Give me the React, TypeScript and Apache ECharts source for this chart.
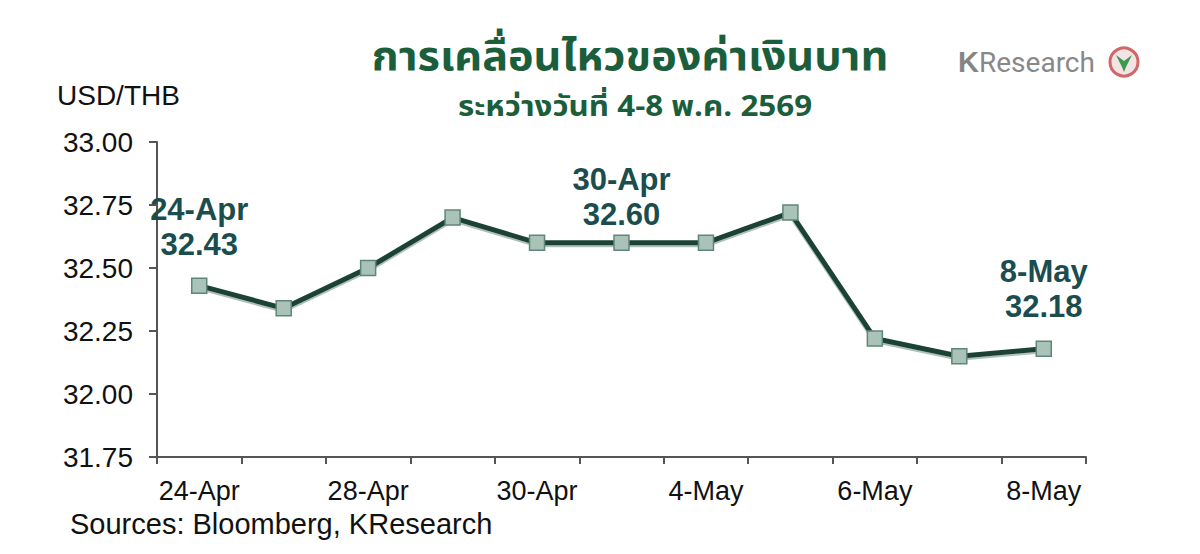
import React, { useEffect, useRef } from "react";
import * as echarts from "echarts";

const categories = ["24-Apr", "27-Apr", "28-Apr", "29-Apr", "30-Apr", "1-May", "4-May", "5-May", "6-May", "7-May", "8-May"];
const values = [32.43, 32.34, 32.5, 32.7, 32.6, 32.6, 32.6, 32.72, 32.22, 32.15, 32.18];
const annotations: Record<number, { text: string; distance: number }> = {
  0: { text: "24-Apr\n32.43", distance: 15 },
  5: { text: "30-Apr\n32.60", distance: 3 },
  10: { text: "8-May\n32.18", distance: 16 },
};
const yMin = 31.75;
const yMax = 33.0;
const yStep = 0.25;

const titleText = "การเคลื่อนไหวของค่าเงินบาท";
const subtitleText = "ระหว่างวันที่ 4-8 พ.ค. 2569";
const unitText = "USD/THB";
const sourceText = "Sources: Bloomberg, KResearch";

const ARIAL = "Arial, Liberation Sans, sans-serif";
const THAI = "Noto Sans Thai, Loma, Tlwg Typo, sans-serif";

export default function App() {
  const ref = useRef<HTMLDivElement>(null);
  useEffect(() => {
    document.body.style.margin = "0";
    const chart = echarts.init(ref.current!, undefined, { renderer: "svg" });
    const data = values.map((v, i) => {
      const a = annotations[i];
      if (!a) return v;
      return {
        value: v,
        label: {
          show: true,
          position: "top",
          distance: a.distance,
          formatter: a.text,
          fontFamily: ARIAL,
          fontWeight: "bold",
          fontSize: 31,
          lineHeight: 35,
          color: "#1b4d4f",
          align: "center",
        },
      };
    });
    chart.setOption({
      animation: false,
      backgroundColor: "#ffffff",
      grid: { left: 157, right: 114, top: 142, bottom: 97, containLabel: false },
      xAxis: {
        type: "category",
        data: categories,
        boundaryGap: true,
        axisLine: { lineStyle: { color: "#555", width: 2 } },
        axisTick: { show: true, alignWithLabel: false, interval: 0, length: 7, lineStyle: { color: "#555", width: 2 } },
        axisLabel: {
          interval: 1,
          color: "#111",
          fontSize: 27,
          fontFamily: ARIAL,
          margin: 20,
        },
      },
      yAxis: {
        type: "value",
        min: yMin,
        max: yMax,
        interval: yStep,
        splitLine: { show: false },
        axisLine: { show: true, lineStyle: { color: "#555", width: 2 } },
        axisTick: { show: true, length: 8, lineStyle: { color: "#555", width: 2 } },
        axisLabel: {
          color: "#111",
          fontSize: 28,
          fontFamily: ARIAL,
          margin: 24,
          formatter: (v: number) => v.toFixed(2),
        },
      },
      series: [
        {
          type: "line",
          data,
          symbol: "rect",
          symbolSize: 15,
          lineStyle: { color: "#1b4335", width: 5, shadowColor: "rgba(120,150,135,0.6)", shadowOffsetY: 2, shadowBlur: 1 },
          itemStyle: { color: "#aac3b8", borderColor: "#60857a", borderWidth: 1.5 },
          label: { show: false },
          z: 3,
        },
      ],
      graphic: [
        {
          type: "text",
          x: 630,
          y: 58,
          scaleX: 1.08,
          style: {
            text: titleText,
            fontSize: 40,
            fontWeight: "bold",
            fill: "#1b5e3c",
            align: "center",
            verticalAlign: "middle",
            fontFamily: THAI,
          },
        },
        {
          type: "text",
          x: 635,
          y: 107,
          scaleX: 1.12,
          style: {
            text: subtitleText,
            fontSize: 28,
            fontWeight: "bold",
            fill: "#1b5e3c",
            align: "center",
            verticalAlign: "middle",
            fontFamily: THAI,
          },
        },
        {
          type: "text",
          x: 57,
          y: 95,
          style: { text: unitText, fontSize: 28, fill: "#111", verticalAlign: "middle", fontFamily: ARIAL },
        },
        {
          type: "text",
          x: 70,
          y: 524,
          style: { text: sourceText, fontSize: 29, fill: "#111", verticalAlign: "middle", fontFamily: ARIAL },
        },
        {
          type: "text",
          x: 958,
          y: 62,
          style: {
            text: "K",
            fontSize: 29,
            fontWeight: "bold",
            fill: "#858585",
            verticalAlign: "middle",
            fontFamily: ARIAL,
          },
        },
        {
          type: "text",
          x: 979,
          y: 62,
          style: {
            text: "Research",
            fontSize: 28,
            fill: "#888888",
            verticalAlign: "middle",
            fontFamily: "Liberation Sans Narrow, Arial Narrow, Roboto, sans-serif",
          },
        },
        {
          type: "circle",
          shape: { cx: 1124, cy: 62, r: 14 },
          style: { fill: "#f4e3e3", stroke: "#d0686a", lineWidth: 3 },
        },
        {
          type: "polygon",
          shape: { points: [[1116, 55], [1124, 61], [1132, 55], [1126, 67], [1124, 72], [1122, 67]] },
          style: { fill: "#3a9a50" },
        },
      ],
    });
    return () => chart.dispose();
  }, []);
  return <div ref={ref} style={{ width: 1200, height: 554 }} />;
}
